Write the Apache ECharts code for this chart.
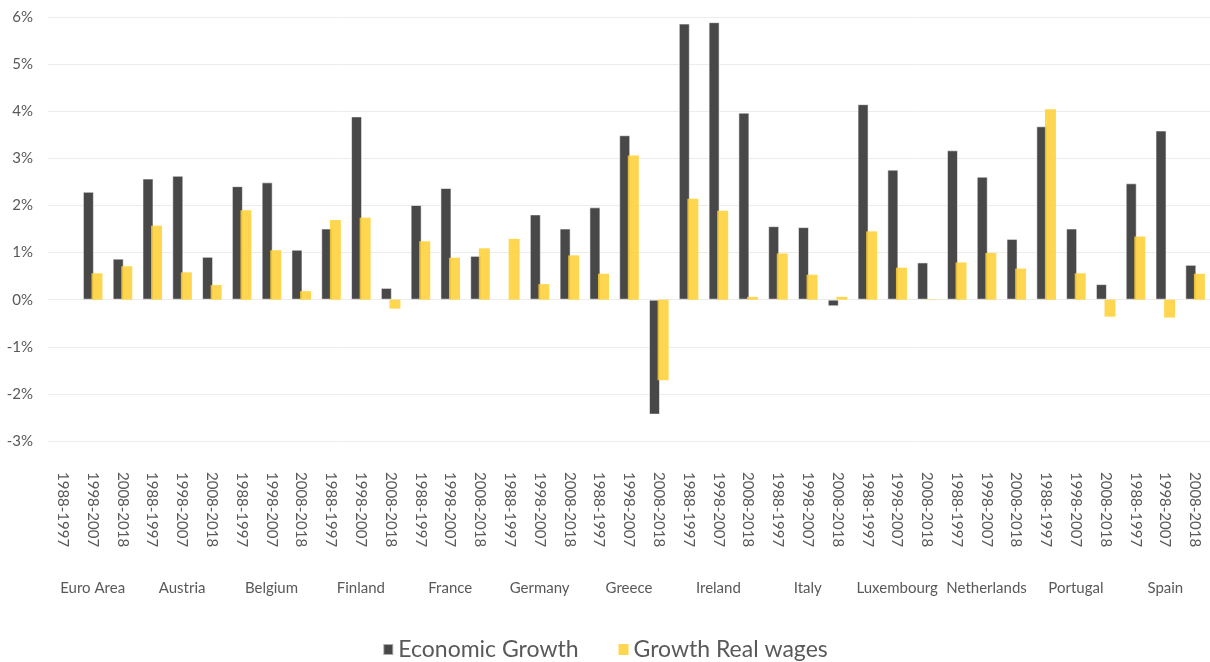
<!DOCTYPE html>
<html>
<head>
<meta charset="utf-8">
<style>
html,body{margin:0;padding:0;background:#fff;}
#chart{width:1210px;height:662px;}
</style>
<script src="https://cdn.jsdelivr.net/npm/echarts@6/dist/echarts.min.js"></script>
</head>
<body>
<div id="chart"></div>
<script>
var countries = ['Euro Area','Austria','Belgium','Finland','France','Germany','Greece','Ireland','Italy','Luxembourg','Netherlands','Portugal','Spain'];
var periods = ['1988-1997','1998-2007','2008-2018'];
var categories = [];
countries.forEach(function(){ periods.forEach(function(p){ categories.push(p); }); });

var economicGrowth = [
  null, 2.29, 0.87,
  2.57, 2.63, 0.91,
  2.41, 2.49, 1.06,
  1.51, 3.89, 0.25,
  2.01, 2.37, 0.93,
  null, 1.81, 1.51,
  1.96, 3.49, -2.44,
  5.86, 5.89, 3.97,
  1.56, 1.54, -0.14,
  4.15, 2.76, 0.79,
  3.17, 2.61, 1.29,
  3.68, 1.51, 0.33,
  2.47, 3.59, 0.74
];
var realWages = [
  null, 0.56, 0.71,
  1.57, 0.58, 0.31,
  1.90, 1.05, 0.18,
  1.69, 1.74, -0.19,
  1.24, 0.89, 1.09,
  1.29, 0.33, 0.94,
  0.55, 3.06, -1.71,
  2.14, 1.89, 0.06,
  0.98, 0.53, 0.06,
  1.45, 0.68, 0.01,
  0.79, 0.99, 0.66,
  4.04, 0.56, -0.36,
  1.34, -0.38, 0.55
];

var font = 'Lato, "Open Sans", sans-serif';
var txt = '#595959';
var chart = echarts.init(document.getElementById('chart'), null, {renderer:'canvas'});
chart.setOption({
  animation: false,
  backgroundColor: '#fff',
  textStyle: {fontFamily: font},
  grid: {left: 48, right: 0, top: 17, bottom: 221},
  legend: {
    top: 633, left: 'center',
    icon: 'rect', itemWidth: 10, itemHeight: 11, itemGap: 40,
    textStyle: {fontSize: 23, color: txt, fontFamily: font},
    data: ['Economic Growth', 'Growth Real wages']
  },
  xAxis: [{
    type: 'category', data: categories, position: 'bottom',
    axisLine: {show: false}, axisTick: {show: false},
    axisLabel: {rotate: -90, interval: 0, margin: 31, fontSize: 15, color: txt, fontFamily: font}
  }, {
    type: 'category', data: countries, position: 'bottom',
    axisLine: {show: false}, axisTick: {show: false}, splitLine: {show: false},
    axisLabel: {interval: 0, margin: 140, fontSize: 15, color: txt, fontFamily: font}
  }],
  yAxis: {
    type: 'value', min: -3, max: 6, interval: 1,
    axisLine: {show: false}, axisTick: {show: false},
    splitLine: {lineStyle: {color: '#ececec', width: 1}},
    axisLabel: {formatter: function(v){ return v + '%'; }, margin: 15, fontSize: 15, color: txt, fontFamily: font}
  },
  series: [{
    name: 'Economic Growth', type: 'bar', data: economicGrowth,
    barWidth: 11, barGap: '-22%',
    itemStyle: {color: '#484848', borderColor: 'rgba(255,255,255,0.55)', borderWidth: 1}
  }, {
    name: 'Growth Real wages', type: 'bar', data: realWages,
    barWidth: 11,
    itemStyle: {color: 'rgba(255,207,50,0.86)'}
  }]
});
</script>
</body>
</html>
